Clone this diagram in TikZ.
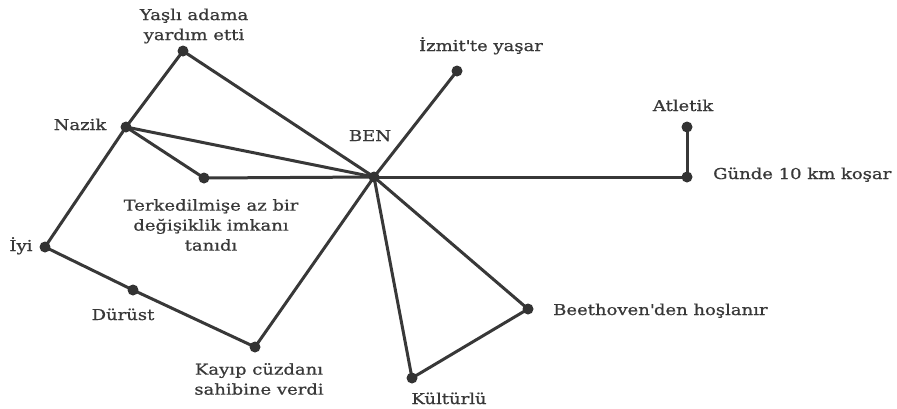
\documentclass[tikz,border=0pt]{standalone}
\usepackage{fontspec}
\setmainfont{DejaVu Serif}[FakeStretch=1.2,FakeBold=0.8]
\usetikzlibrary{backgrounds}
\begin{document}
\begin{tikzpicture}[x=1pt,y=-1pt,
  dot/.style={circle,fill=black!80,inner sep=0pt,minimum size=11pt},
  edge/.style={line width=3pt,draw=black!78},
  lbl/.style={inner sep=0pt,text=black!78,align=center,font=\fontsize{15}{20}\selectfont}]
\useasboundingbox (0,0) rectangle (897,408);
% dots
\node[dot] (ben) at (374,177) {};
\node[dot] (yasli) at (183,51) {};
\node[dot] (nazik) at (126,127) {};
\node[dot] (terk) at (204,178) {};
\node[dot] (iyi) at (45,247) {};
\node[dot] (durust) at (133,290) {};
\node[dot] (kayip) at (255,347) {};
\node[dot] (kultur) at (412,378) {};
\node[dot] (beet) at (528,309) {};
\node[dot] (izmit) at (457,71) {};
\node[dot] (atl) at (687,127) {};
\node[dot] (gunde) at (687,177) {};
% edges
\begin{scope}[on background layer]
\draw[edge] (ben.center) -- (yasli.center);
\draw[edge] (ben.center) -- (nazik.center);
\draw[edge] (ben.center) -- (terk.center);
\draw[edge] (ben.center) -- (izmit.center);
\draw[edge] (ben.center) -- (gunde.center);
\draw[edge] (gunde.center) -- (atl.center);
\draw[edge] (ben.center) -- (kayip.center);
\draw[edge] (ben.center) -- (kultur.center);
\draw[edge] (ben.center) -- (beet.center);
\draw[edge] (beet.center) -- (kultur.center);
\draw[edge] (nazik.center) -- (yasli.center);
\draw[edge] (nazik.center) -- (terk.center);
\draw[edge] (nazik.center) -- (iyi.center);
\draw[edge] (iyi.center) -- (durust.center);
\draw[edge] (durust.center) -- (kayip.center);
\end{scope}
% labels
\node[lbl] (lyasli) at (194,26) {Yaşlı adama\\yardım etti};
\node[lbl,anchor=base] (lnazik) at (80,130) {Nazik};
\node[lbl,anchor=base] (lben) at (370,141) {BEN};
\node[lbl] (lterk) at (211,225) {Terkedilmişe az bir\\değişiklik imkanı\\tanıdı};
\node[lbl,anchor=base] (liyi) at (21,251) {İyi};
\node[lbl,anchor=base] (ldurust) at (123,320) {Dürüst};
\node[lbl] (lkayip) at (259,379) {Kayıp cüzdanı\\sahibine verdi};
\node[lbl,anchor=base] (lkultur) at (449,404) {Kültürlü};
\node[lbl,anchor=base west] (lbeet) at (553,315) {Beethoven\textquotesingle den hoşlanır};
\node[lbl,anchor=base] (lizmit) at (481,51) {İzmit\textquotesingle te yaşar};
\node[lbl,anchor=base] (latl) at (683,111) {Atletik};
\node[lbl,anchor=base west] (lgunde) at (713,179) {Günde 10 km koşar};
\end{tikzpicture}
\end{document}
